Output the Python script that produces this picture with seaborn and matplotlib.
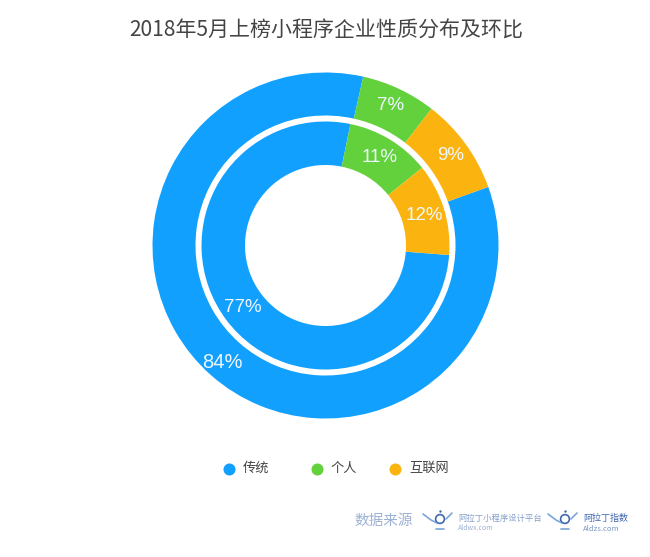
import matplotlib
matplotlib.use("Agg")
import matplotlib.pyplot as plt
import seaborn as sns

sns.set_theme(style="white")
plt.rcParams['font.family'] = ['Noto Sans CJK SC', 'DejaVu Sans']

categories = ["传统", "个人", "互联网"]
outer_values = [84, 7, 9]
inner_values = [77, 11, 12]
palette = sns.color_palette(["#12A0FF", "#62D13C", "#FBB40F"])
title = "2018年5月上榜小程序企业性质分布及环比"

W, H = 650, 557
fig = plt.figure(figsize=(W / 100, H / 100), dpi=100, facecolor="white")

# rings, in a y-up pixel frame
pax = fig.add_axes([0, 0, 1, 1])
cx, cy = 325.5, H - 245.5
pax.pie(outer_values, colors=palette, startangle=19.8, counterclock=False,
        center=(cx, cy), radius=173, frame=True,
        wedgeprops=dict(width=173 - 130, linewidth=0))
pax.pie(inner_values, colors=palette, startangle=-4.4, counterclock=False,
        center=(cx, cy), radius=124, frame=True,
        wedgeprops=dict(width=124 - 80.5, linewidth=0))
pax.set_xlim(0, W)
pax.set_ylim(0, H)
pax.set_aspect("equal")
pax.axis("off")

# text layer, in a y-down pixel frame
ax = fig.add_axes([0, 0, 1, 1], zorder=3)
ax.set_xlim(0, W)
ax.set_ylim(H, 0)
ax.axis("off")
ax.patch.set_alpha(0)

def put(x, y, s, size):
    ax.text(x, y, s, color="#EEF7FF", fontsize=size, ha="center", va="center",
            family=["Liberation Sans"], zorder=5)

for (x, y), v, size in zip([(222, 362.5), (391, 106), (451, 155)], outer_values, [14.5, 13.5, 13.5]):
    put(x, y, f"{v}%", size)
for (x, y), v, size in zip([(242.5, 307.5), (380, 158), (424, 215)], inner_values, [13.5, 13.5, 13.5]):
    put(x, y, f"{v}%", size)

ax.text(326, 31, title, fontsize=15.1, color="#444444", ha="center", va="center")

# legend
for px, tx, name, c in zip([229, 317, 395], [243, 331, 409], categories, palette):
    ax.scatter([px], [468.5], s=75, color=c, linewidths=0)
    ax.text(tx, 468, name, fontsize=9.5, color="#444444", va="center", ha="left")

# source watermark
wm = "#5B7FB8"
ax.text(354, 521, "数据来源", fontsize=10.5, color=wm, alpha=0.6, va="center", ha="left")
ax.text(458, 518, "阿拉丁小程序设计平台", fontsize=6, color=wm, alpha=0.75, va="center", ha="left")
ax.text(458, 528, "Aldwx.com", fontsize=5, color=wm, alpha=0.6, va="center", ha="left")
ax.text(583, 518, "阿拉丁指数", fontsize=6.5, color="#3E67AE", va="center", ha="left")
ax.text(583, 529, "Aldzs.com", fontsize=5.5, color=wm, alpha=0.8, va="center", ha="left")

# small lamp logos next to the source names
for ox in [423, 548]:
    ax.plot([ox, ox + 8, ox + 14], [514, 520, 523], color="#5B8FD0", lw=1.2, alpha=0.8)
    ax.scatter([ox + 17], [519], s=40, facecolors="none", edgecolors="#3E67AE", linewidths=1.2)
    ax.scatter([ox + 17], [511], s=3, color="#3E67AE", linewidths=0)
    ax.plot([ox + 13, ox + 21], [529, 529], color="#5B8FD0", lw=1.2, alpha=0.8)
    ax.plot([ox + 23, ox + 29], [519, 513], color="#5B8FD0", lw=1.2, alpha=0.8)

fig.savefig("out.png", dpi=100)
